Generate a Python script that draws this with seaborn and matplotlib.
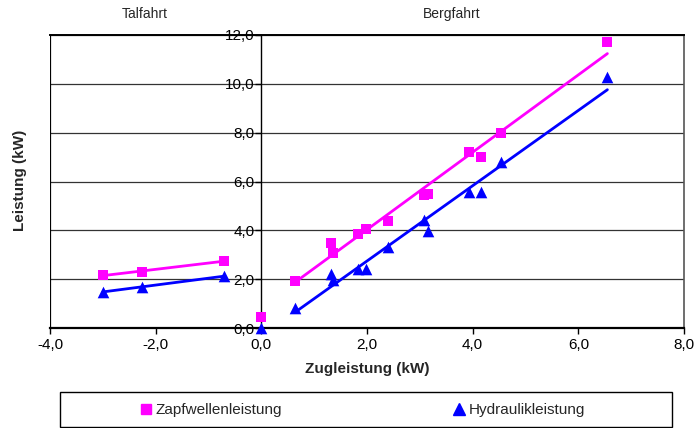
import matplotlib
matplotlib.use("Agg")
import matplotlib.pyplot as plt
import seaborn as sns
import numpy as np
from matplotlib.ticker import FuncFormatter, MultipleLocator
from matplotlib.lines import Line2D
from matplotlib.patches import Rectangle

# ---- data ----
x_tal = [-3.0, -2.25, -0.7]
y_zapf_tal = [2.17, 2.3, 2.75]
y_hyd_tal = [1.49, 1.67, 2.13]

x_zero = [0.0]
y_zapf_zero = [0.47]
y_hyd_zero = [0.0]

x_berg = [0.63, 1.32, 1.36, 1.83, 1.98, 2.4, 3.07, 3.15, 3.93, 4.16, 4.54, 6.55]
y_zapf_berg = [1.93, 3.48, 3.07, 3.85, 4.06, 4.39, 5.45, 5.5, 7.21, 7.0, 8.0, 11.72]
y_hyd_berg = [0.81, 2.21, 1.97, 2.4, 2.4, 3.33, 4.43, 3.99, 5.59, 5.59, 6.78, 10.26]

series_names = ["Zapfwellenleistung", "Hydraulikleistung"]
pink = "#FF00FF"
blue = "#0000FF"

sns.set_theme(style="white")
plt.rcParams['font.family'] = ['Liberation Sans', 'DejaVu Sans']

fig = plt.figure(figsize=(6.94, 4.28), dpi=100)
ax = fig.add_axes([50/694, 1-328/428, 634/694, 293/428])

lw = 2.0
for xs, ys, c in [(x_tal, y_zapf_tal, pink), (x_tal, y_hyd_tal, blue),
                  (x_berg, y_zapf_berg, pink), (x_berg, y_hyd_berg, blue)]:
    sns.regplot(x=xs, y=ys, scatter=False, ci=None, color=c, ax=ax,
                line_kws=dict(lw=lw, zorder=3), truncate=True)

all_x = x_tal + x_zero + x_berg
sc1 = sns.scatterplot(x=all_x, y=y_zapf_tal + y_zapf_zero + y_zapf_berg, marker='s',
                      s=55, color=pink, edgecolor=None, linewidth=0, ax=ax, zorder=4)
sns.scatterplot(x=all_x, y=y_hyd_tal + y_hyd_zero + y_hyd_berg, marker='^',
                s=70, color=blue, edgecolor=None, linewidth=0, ax=ax, zorder=4)
for coll in ax.collections:
    coll.set_clip_on(False)

ax.set_xlim(-4, 8)
ax.set_ylim(0, 12)
ax.xaxis.set_major_locator(MultipleLocator(2))
ax.yaxis.set_major_locator(MultipleLocator(2))
fmt = FuncFormatter(lambda v, p: f"{v:.1f}".replace('.', ','))
ax.xaxis.set_major_formatter(fmt)
ax.yaxis.set_major_formatter(fmt)

ax.grid(axis='y', color='#333333', lw=0.9)
ax.grid(axis='x', visible=False)
ax.set_axisbelow(True)

ax.spines['left'].set_position(('data', 0))
for s in ['left', 'bottom', 'top']:
    ax.spines[s].set_color('black')
ax.spines['left'].set_linewidth(1.0)
ax.spines['bottom'].set_linewidth(1.6)
ax.spines['top'].set_linewidth(1.4)
ax.spines['right'].set_color('#555555')
ax.spines['right'].set_linewidth(1.2)
ax.axvline(-4, color='black', lw=1.6, zorder=1)

ax.tick_params(axis='both', which='both', direction='out', length=4, width=1,
               color='black', labelsize=11, labelcolor='black')
ax.tick_params(axis='y', pad=1)
ax.tick_params(axis='x', pad=3)
ax.tick_params(bottom=True, left=True)

ax.set_xlabel("Zugleistung (kW)", fontsize=11, fontweight='bold', labelpad=7.5)
ax.set_ylabel("")
fig.text(20/694, 1-180/428, "Leistung (kW)", rotation=90, fontsize=11,
         fontweight='bold', ha='center', va='center')

fig.text(145/694, 1-14/428, "Talfahrt", fontsize=10, ha='center', va='center')
fig.text(452/694, 1-14/428, "Bergfahrt", fontsize=10, ha='center', va='center')

# legend frame + legend
fig.patches.append(Rectangle((60/694, 1-427/428), 612/694, 35/428,
                             transform=fig.transFigure, fill=False,
                             edgecolor='black', lw=1.0))
handles = [Line2D([], [], marker='s', color=pink, ls='none', markersize=7),
           Line2D([], [], marker='^', color=blue, ls='none', markersize=8)]
fig.legend(handles, series_names, loc='center', ncol=2,
           bbox_to_anchor=(361/694, 1-410/428), frameon=False, fontsize=11,
           handletextpad=0.0, columnspacing=11.0, handlelength=1.2)

fig.savefig("out.png", dpi=100)
